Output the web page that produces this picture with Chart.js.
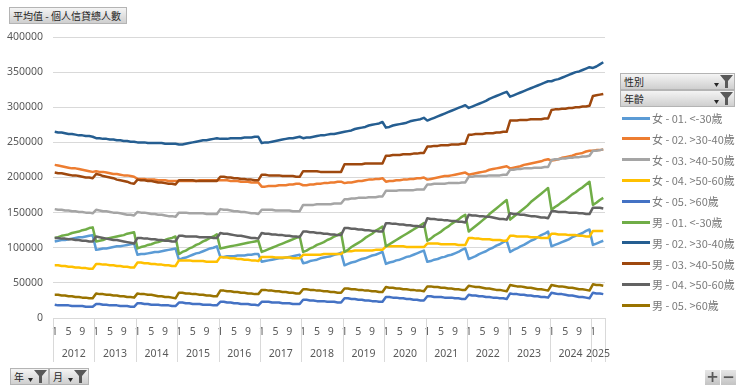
<!DOCTYPE html>
<html>
<head>
<meta charset="utf-8">
<script src="https://cdn.jsdelivr.net/npm/chart.js@4.4.1/dist/chart.umd.min.js"></script>
<style>
  body { margin: 0; background: #fff; }
  #wrap { position: relative; width: 740px; height: 389px; overflow: hidden; }
  #chart { position: absolute; left: 0; top: 0; }
  .pbtn {
    position: absolute; box-sizing: border-box;
    background: linear-gradient(#f4f4f4, #cfcfcf);
    border: 1px solid #b4b4b4;
    font: 10px "Noto Sans CJK TC", sans-serif; color: #262626;
    display: flex; align-items: center; padding-left: 3px; white-space: nowrap;
  }
  .legend-row { position: absolute; left: 622px; height: 16px; display: flex; align-items: center;
    font: 11px "Noto Sans CJK TC", sans-serif; color: #7a7a7a; white-space: nowrap; }
  .legend-row span.ln { display: inline-block; width: 28px; height: 3px; margin-right: 2px; }
  .zbtn { position: absolute; top: 370px; width: 15px; height: 15px; background: linear-gradient(#e6e6e6, #c4c4c4);
    font: bold 15px "DejaVu Sans", sans-serif; color: #595959; text-align: center; line-height: 14px; }
</style>
</head>
<body>
<div id="wrap">
  <canvas id="chart" width="740" height="389"></canvas>
</div>
<script>
// === DATOS (miles de personas) ===
const years = ['2012','2013','2014','2015','2016','2017','2018','2019','2020','2021','2022','2023','2024','2025'];
const monthsInYear = [12,12,12,12,12,12,12,12,12,12,12,12,12,4];
const shownMonths = [1, 5, 9];
const yTicks = [0, 50000, 100000, 150000, 200000, 250000, 300000, 350000, 400000];

const seriesNames = ['女 - 01. <-30歲','女 - 02. >30-40歲','女 - 03. >40-50歲','女 - 04. >50-60歲','女 - 05. >60歲',
                     '男 - 01. <-30歲','男 - 02. >30-40歲','男 - 03. >40-50歲','男 - 04. >50-60歲','男 - 05. >60歲'];
const seriesColors = ['#5B9BD5','#ED7D31','#A5A5A5','#FFC000','#4472C4','#70AD47','#255E91','#9E480E','#636363','#997300'];

const f01 = [
  109,110,111,111,112,113,114,115,115,116,117,118,
  97,98,99,99,100,101,102,102,103,104,105,106,
  90,91,91,92,93,94,94,95,96,97,98,99,
  83,85,86,88,90,92,93,95,97,99,100,102,
  87,87,88,88,88,89,89,89,90,90,91,91,
  80,81,82,83,84,85,85,86,87,88,89,90,
  78,79,81,82,83,85,86,87,88,90,91,93,
  75,77,79,80,82,84,85,87,89,90,92,94,
  77,79,80,82,83,85,87,88,90,92,94,96,
  80,81,83,84,86,87,89,90,92,94,97,99,
  84,86,88,91,93,95,98,100,103,105,108,110,
  94,97,99,102,104,107,110,112,115,118,120,123,
  102,104,106,108,110,112,115,117,119,121,124,126,
  104,106,108,110];
const f02 = [
  218,217,216,215,214,213,213,212,211,210,209,208,
  209,208,208,207,206,205,205,204,203,203,202,201,
  198,198,198,197,197,197,196,196,196,195,195,195,
  195,195,195,195,195,195,196,196,196,196,196,196,
  196,196,196,195,195,195,194,194,194,193,193,193,
  187,187,188,188,188,189,189,189,190,190,191,191,
  189,189,190,190,191,191,192,192,193,193,194,194,
  192,193,193,194,195,195,196,197,197,198,198,199,
  194,195,195,196,196,197,197,198,198,199,199,200,
  197,198,199,200,201,202,202,203,204,205,206,207,
  204,205,206,207,208,209,211,212,213,214,215,216,
  213,214,215,216,218,219,220,221,222,223,225,226,
  224,225,226,228,229,230,231,233,234,235,237,238,
  238,239,239,240];
const f03 = [
  155,154,154,153,153,152,152,151,151,150,150,149,
  154,153,152,152,151,150,150,149,148,147,147,146,
  151,150,150,149,148,148,147,147,146,145,145,144,
  150,150,150,149,149,149,149,149,148,148,148,148,
  155,154,154,153,152,152,151,151,150,149,149,148,
  154,154,154,154,153,153,153,153,153,152,152,152,
  161,161,161,161,162,162,162,162,162,163,163,163,
  169,169,170,170,171,171,171,172,172,172,173,173,
  181,181,181,181,182,182,182,182,182,183,183,183,
  190,190,191,191,191,191,192,192,192,192,193,193,
  201,201,202,202,202,202,203,203,203,203,204,204,
  211,211,212,212,213,213,213,214,214,214,215,215,
  225,226,226,227,227,228,228,229,229,230,230,231,
  238,238,239,240];
const f04 = [
  75,75,74,74,73,73,72,72,71,71,70,70,
  77,77,76,76,75,75,74,74,73,73,72,72,
  79,79,78,78,77,77,76,76,75,75,74,74,
  82,82,82,82,81,81,81,81,80,80,80,80,
  87,86,86,85,85,84,84,83,83,82,82,81,
  87,87,87,87,86,86,86,86,86,85,85,85,
  90,90,90,90,90,90,91,91,91,91,91,91,
  95,95,95,96,96,96,96,96,96,97,97,97,
  102,102,102,102,102,102,101,101,101,101,101,101,
  106,106,106,106,105,105,105,105,105,104,104,104,
  114,114,113,113,112,112,112,111,111,111,110,110,
  117,117,116,116,116,116,115,115,115,114,114,114,
  120,120,119,119,119,118,118,118,117,117,116,116,
  124,124,124,124];
const f05 = [
  19,18,18,18,18,17,17,17,17,16,16,16,
  20,20,19,19,18,18,18,17,17,17,16,16,
  21,21,20,20,19,19,19,18,18,18,17,17,
  22,22,21,21,20,20,20,19,19,19,18,18,
  23,23,22,22,21,21,20,20,20,19,19,18,
  23,23,23,22,22,22,21,21,21,20,20,20,
  26,26,25,25,24,24,24,23,23,23,22,22,
  28,28,27,27,26,26,25,25,24,24,23,23,
  30,30,29,29,28,28,27,27,26,26,25,25,
  31,31,30,30,30,29,29,29,28,28,27,27,
  33,32,32,31,31,30,30,29,29,28,28,27,
  35,34,34,33,33,32,32,31,31,30,30,29,
  36,35,34,34,33,32,32,31,30,30,29,28,
  36,35,35,34];
const m01 = [
  114,115,117,118,119,121,122,123,125,126,128,129,
  109,110,111,113,114,115,116,117,118,120,121,122,
  99,101,102,104,105,107,108,110,111,113,114,116,
  91,94,96,99,101,104,106,109,111,114,116,119,
  99,100,101,102,103,104,105,106,107,108,109,110,
  94,96,98,100,102,104,106,108,110,112,114,116,
  94,96,99,101,104,106,108,111,113,116,118,121,
  94,97,101,104,107,110,114,117,120,124,127,130,
  102,105,108,111,114,117,120,123,126,129,132,135,
  110,113,117,120,123,127,130,134,137,140,144,147,
  123,127,131,135,139,143,148,152,156,160,164,168,
  140,144,148,152,156,160,165,169,173,177,181,185,
  154,158,161,165,168,172,176,179,183,186,190,194,
  161,164,168,171];
const m02 = [
  265,264,264,263,262,262,261,260,260,259,259,258,
  256,256,255,255,254,254,253,253,252,252,251,251,
  250,250,250,249,249,249,249,249,248,248,248,248,
  247,247,248,249,250,251,252,253,253,254,255,256,
  255,255,255,256,256,256,256,257,257,257,258,258,
  249,250,250,251,252,253,254,255,256,256,257,258,
  256,257,257,258,259,260,260,261,262,262,263,264,
  265,266,267,269,270,271,272,274,275,276,277,279,
  271,272,274,275,276,277,278,280,281,282,283,285,
  281,283,285,287,289,291,293,295,297,299,301,303,
  299,301,303,305,307,309,312,314,316,318,320,322,
  315,317,319,321,323,325,327,329,331,333,335,337,
  337,339,340,342,344,346,348,350,351,353,355,357,
  356,358,361,364];
const m03 = [
  207,206,206,205,204,203,203,202,201,200,200,199,
  205,204,202,201,200,199,197,196,195,194,192,191,
  197,196,196,195,195,194,193,193,192,191,191,190,
  196,196,196,196,196,195,195,195,195,195,195,195,
  201,201,200,200,199,199,198,198,197,197,196,196,
  204,204,203,203,203,203,202,202,202,202,201,201,
  209,209,209,209,209,208,208,208,208,208,208,208,
  219,219,219,219,219,219,220,220,220,220,220,220,
  231,231,232,232,232,233,233,233,234,234,235,235,
  244,244,245,245,246,246,246,247,247,247,248,248,
  261,261,262,262,262,263,263,263,264,264,265,265,
  281,281,281,282,282,282,283,283,283,283,284,284,
  296,297,297,298,298,299,299,300,300,301,301,302,
  316,317,318,319];
const m04 = [
  114,114,113,113,112,112,111,111,110,110,109,109,
  116,115,114,113,112,111,111,110,109,108,107,106,
  114,114,113,113,112,112,111,111,110,110,109,109,
  117,117,116,116,116,116,115,115,115,115,114,114,
  121,120,120,119,118,117,117,116,115,114,114,113,
  121,120,120,119,119,118,118,117,117,116,116,115,
  123,123,122,122,121,121,120,120,119,119,118,118,
  128,128,127,127,126,126,125,125,124,124,123,123,
  135,135,134,134,133,133,132,132,131,131,130,130,
  142,141,141,140,140,139,139,138,138,137,137,136,
  147,146,146,145,145,144,144,143,142,141,141,140,
  149,148,148,147,147,146,145,145,144,143,143,142,
  152,152,151,151,151,150,150,150,149,149,148,148,
  157,157,157,156];
const m05 = [
  33,33,32,32,31,31,30,30,29,29,28,28,
  35,34,34,33,33,32,32,31,31,30,30,29,
  35,34,34,33,33,32,31,31,30,30,29,28,
  36,36,35,35,34,34,33,33,32,32,31,31,
  39,39,38,38,37,37,36,36,35,35,34,34,
  40,40,39,39,38,38,37,37,36,36,35,35,
  41,41,40,40,39,39,38,38,37,37,36,36,
  42,42,41,41,40,40,39,39,38,38,37,37,
  44,43,43,42,42,41,41,40,40,39,39,38,
  45,45,44,44,43,43,42,42,41,41,40,40,
  46,45,44,44,43,42,42,41,40,40,39,38,
  47,46,45,45,44,43,43,42,41,41,40,39,
  47,46,45,45,44,43,43,42,41,41,40,39,
  48,47,47,46];

const seriesValues = [f01, f02, f03, f04, f05, m01, m02, m03, m04, m05];

// categorías año-mes
const labels = [];
const monthOf = [];
years.forEach((y, i) => {
  for (let m = 1; m <= monthsInYear[i]; m++) { labels.push(y + '-' + m); monthOf.push(m); }
});

const axisFont = { family: '"Noto Sans", sans-serif', size: 10.5 };
const axisColor = '#595959';
const gridColor = '#d9d9d9';

// === EJE MULTINIVEL (años) ===
const yearAxisPlugin = {
  id: 'yearAxis',
  afterDraw(chart) {
    const x = chart.scales.x;
    const ctx = chart.ctx;
    const band = (x.right - x.left) / labels.length;
    const top = x.top;
    ctx.save();
    ctx.strokeStyle = gridColor;
    ctx.lineWidth = 1;
    ctx.fillStyle = axisColor;
    ctx.font = axisFont.size + 'px ' + axisFont.family;
    ctx.textAlign = 'center';
    ctx.textBaseline = 'middle';
    let idx = 0;
    years.forEach((y, i) => {
      const x0 = x.getPixelForValue(idx) - band / 2;
      const x1 = x.getPixelForValue(idx + monthsInYear[i] - 1) + band / 2;
      ctx.beginPath();
      ctx.moveTo(Math.round(x0) + 0.5, top);
      ctx.lineTo(Math.round(x0) + 0.5, top + 44);
      ctx.stroke();
      if (i === years.length - 1) {
        ctx.beginPath();
        ctx.moveTo(Math.round(x1) + 0.5, top);
        ctx.lineTo(Math.round(x1) + 0.5, top + 44);
        ctx.stroke();
      }
      ctx.fillText(y, (x0 + x1) / 2, top + 36);
      idx += monthsInYear[i];
    });
    ctx.restore();
  }
};

const datasets = seriesNames.map((name, i) => ({
  label: name,
  data: seriesValues[i].map(v => v * 1000),
  borderColor: seriesColors[i],
  backgroundColor: seriesColors[i],
  borderWidth: 2.5,
  pointRadius: 0,
  tension: 0,
  borderJoinStyle: 'round',
  fill: false,
  order: seriesNames.length - i
}));

new Chart(document.getElementById('chart'), {
  type: 'line',
  data: { labels, datasets },
  options: {
    responsive: false,
    animation: false,
    devicePixelRatio: 1,
    layout: { padding: { left: 0, right: 135, top: 37, bottom: 0 } },
    plugins: { legend: { display: false }, tooltip: { enabled: false } },
    scales: {
      x: {
        type: 'category',
        offset: true,
        grid: { display: false, drawTicks: false },
        border: { display: true, color: gridColor },
        ticks: {
          autoSkip: false, maxRotation: 0, minRotation: 0, padding: 8,
          color: axisColor, font: axisFont,
          callback: (v, i) => shownMonths.includes(monthOf[i]) ? String(monthOf[i]) : ''
        },
        afterFit: (s) => { s.height = 71; }
      },
      y: {
        min: 0, max: 400000,
        afterBuildTicks: (s) => { s.ticks = yTicks.map(v => ({ value: v })); },
        grid: { color: gridColor, drawTicks: false },
        border: { display: false },
        ticks: { padding: 10, color: axisColor, font: axisFont, callback: (v) => String(v) },
        afterFit: (s) => { s.width = 53; }
      }
    }
  },
  plugins: [yearAxisPlugin]
});

// === BOTONES DE CAMPO Y LEYENDA ===
const wrap = document.getElementById('wrap');
const funnel = '<svg width="13" height="13" viewBox="0 0 13 13" style="display:block"><polygon points="0,0 13,0 8,6 8,13 5,13 5,6" fill="#595959"/></svg>';
const dropArrow = '<svg width="5" height="4" viewBox="0 0 5 4" style="display:block"><polygon points="0,0 5,0 2.5,4" fill="#262626"/></svg>';

function fieldButton(text, left, top, width, height, withFilter) {
  const b = document.createElement('div');
  b.className = 'pbtn';
  b.style.left = left + 'px'; b.style.top = top + 'px';
  b.style.width = width + 'px'; b.style.height = height + 'px';
  b.innerHTML = '<span>' + text + '</span>';
  if (withFilter) {
    const a = document.createElement('div');
    a.innerHTML = dropArrow;
    a.style.cssText = 'position:absolute;right:15px;top:' + (height - 8) + 'px;width:5px;height:4px';
    const f = document.createElement('div');
    f.innerHTML = funnel;
    f.style.cssText = 'position:absolute;right:1px;top:1px;width:13px;height:13px';
    b.appendChild(a); b.appendChild(f);
  }
  wrap.appendChild(b);
}

fieldButton('平均值 - 個人信貸總人數', 9, 7, 118, 17, false);
fieldButton('性別', 620, 73, 115, 17, true);
fieldButton('年齡', 620, 90, 115, 17, true);
fieldButton('年', 10, 368, 39, 17, true);
fieldButton('月', 49, 368, 40, 17, true);

seriesNames.forEach((name, i) => {
  const row = document.createElement('div');
  row.className = 'legend-row';
  row.style.top = (110 + i * 20.8) + 'px';
  row.innerHTML = '<span class="ln" style="background:' + seriesColors[i] + '"></span>' + name;
  wrap.appendChild(row);
});

['+', '−'].forEach((s, i) => {
  const z = document.createElement('div');
  z.className = 'zbtn';
  z.style.left = (705 + i * 16) + 'px';
  z.textContent = s;
  wrap.appendChild(z);
});
</script>
</body>
</html>
